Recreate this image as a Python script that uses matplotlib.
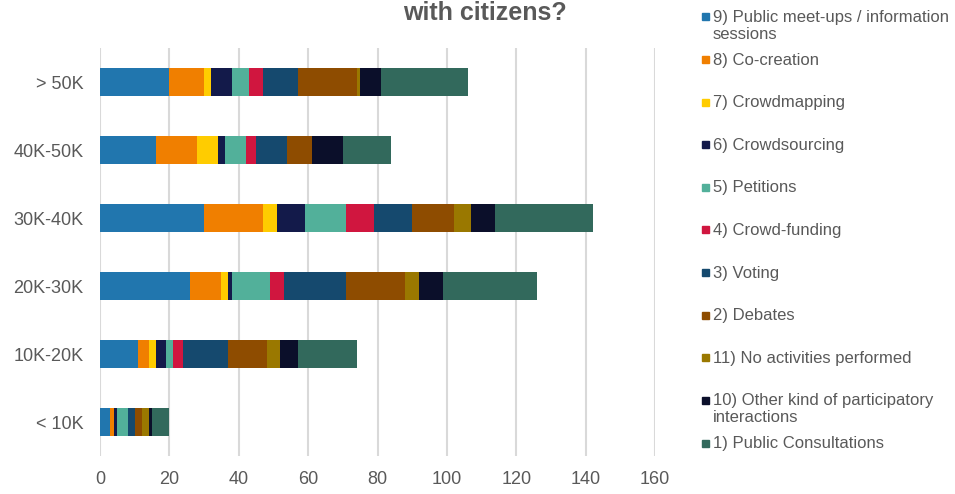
import matplotlib.pyplot as plt
import numpy as np
from matplotlib.patches import Rectangle

plt.rcParams['font.family'] = ['Liberation Sans', 'DejaVu Sans']

# income groups, bottom to top on the chart
groups = ['< 10K', '10K-20K', '20K-30K', '30K-40K', '40K-50K', '> 50K']

# segment order left to right (same as legend order top to bottom)
labels = ['9) Public meet-ups / information\nsessions', '8) Co-creation', '7) Crowdmapping',
          '6) Crowdsourcing', '5) Petitions', '4) Crowd-funding', '3) Voting', '2) Debates',
          '11) No activities performed', '10) Other kind of participatory\ninteractions',
          '1) Public Consultations']
colors_ = ['#2176AE', '#F07F00', '#FFCC00', '#131A4A', '#52B09A', '#D0163F',
           '#15496E', '#8E4C00', '#9A7800', '#0B0F2A', '#32695C']

# counts per activity, one value per group (< 10K ... > 50K)
meetups = [3, 11, 26, 30, 16, 20]
cocreation = [1, 3, 9, 17, 12, 10]
crowdmapping = [0, 2, 2, 4, 6, 2]
crowdsourcing = [1, 3, 1, 8, 2, 6]
petitions = [3, 2, 11, 12, 6, 5]
crowdfunding = [0, 3, 4, 8, 3, 4]
voting = [2, 13, 18, 11, 9, 10]
debates = [2, 11, 17, 12, 7, 17]
no_activities = [2, 4, 4, 5, 0, 1]
other = [1, 5, 7, 7, 9, 6]
consultations = [5, 17, 27, 28, 14, 25]

series = [meetups, cocreation, crowdmapping, crowdsourcing, petitions, crowdfunding,
          voting, debates, no_activities, other, consultations]

grey = '#595959'

fig = plt.figure(figsize=(9.55, 4.94), dpi=100)
ax = fig.add_axes([100/955, 1 - 456/494, 555/955, 408/494])

y = np.arange(len(groups))
left = np.zeros(len(groups))
for vals, c in zip(series, colors_):
    vals = np.array(vals)
    ax.barh(y, vals, left=left, height=0.4, color=c, zorder=3)
    left += vals

ax.set_xlim(0, 160)
ax.set_ylim(-0.5, len(groups) - 0.5)
ax.set_xticks(np.arange(0, 161, 20))
ax.set_yticks(y)
ax.set_yticklabels(groups)
ax.grid(axis='x', color='#D9D9D9', linewidth=1.5, zorder=0)
for s in ax.spines.values():
    s.set_visible(False)
ax.tick_params(axis='both', length=0, labelsize=13, colors=grey)
ax.tick_params(axis='y', pad=12)
ax.tick_params(axis='x', pad=11)

# the title's earlier lines are off the top of the original picture
fig.text(485/955, 1 - 1/494, 'with citizens?', ha='center', va='top',
         fontsize=18, fontweight='bold', color=grey)

# legend drawn by hand
for i, (lab, c) in enumerate(zip(labels, colors_)):
    yc = 17 + 42.6 * i
    fig.patches.append(Rectangle((702/955, 1 - (yc + 3.5)/494), 7/955, 7/494,
                                 transform=fig.transFigure, color=c))
    fig.text(713/955, 1 - (yc - 7)/494, lab, ha='left', va='top', fontsize=12,
             color=grey, linespacing=1.15)

fig.savefig('out.png', dpi=100)
